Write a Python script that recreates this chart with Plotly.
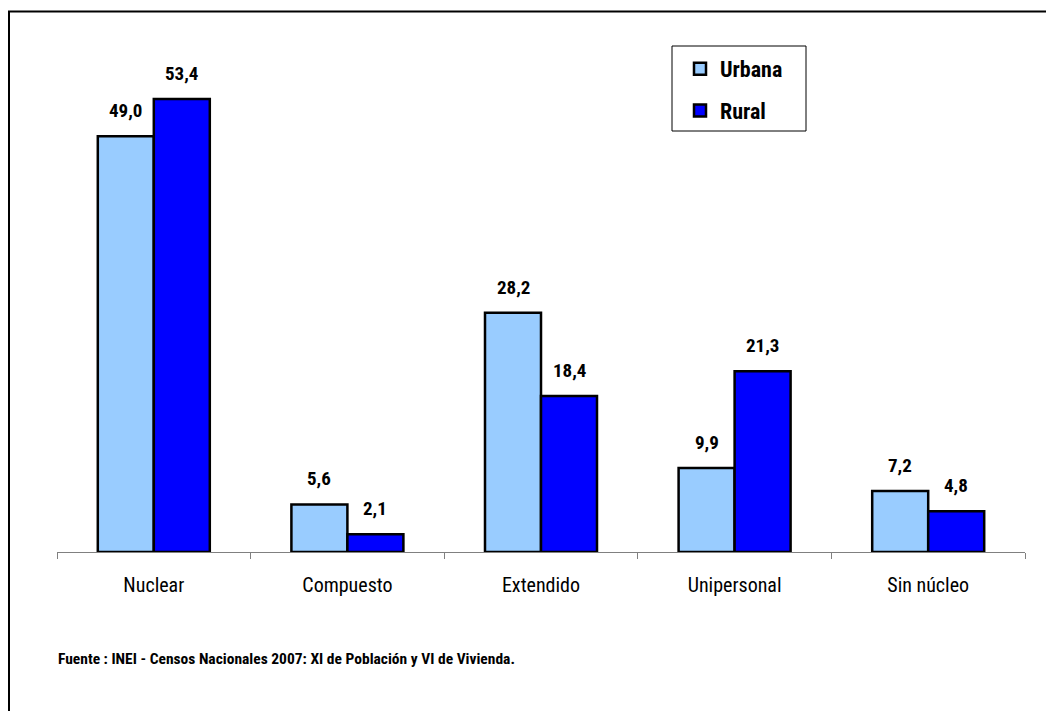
import plotly.graph_objects as go

categories = ["Nuclear", "Compuesto", "Extendido", "Unipersonal", "Sin núcleo"]
urbana = [49.0, 5.6, 28.2, 9.9, 7.2]
rural = [53.4, 2.1, 18.4, 21.3, 4.8]
series_names = ["Urbana", "Rural"]
source_text = "Fuente : INEI - Censos Nacionales 2007: XI de Población y VI de Vivienda."

NARROW = "Roboto Condensed, Liberation Sans Narrow, Arial Narrow, Liberation Sans, sans-serif"

# the page places the figure 8px in from the top-left corner
OX, OY = 8, 8
W, H = 1054, 711
L = 57 - OX
T = 43 - OY
R = W - (1025 - OX)
B = H - (552 - OY)
pw, ph = W - L - R, H - T - B


def px2x(px):
    return (px - OX - L) / pw


def py2y(py):
    return (H - B - (py - OY)) / ph


fig = go.Figure()
fig.add_trace(go.Bar(x=categories, y=urbana, name=series_names[0], legendgroup="u",
                     marker=dict(color="#99CCFF", line=dict(color="black", width=2.5))))
fig.add_trace(go.Bar(x=categories, y=rural, name=series_names[1], legendgroup="r",
                     marker=dict(color="#0000FF", line=dict(color="black", width=2.5))))

annotations = []
for vals, shift in ((urbana, -28), (rural, 28)):
    for c, v in zip(categories, vals):
        annotations.append(dict(x=c, y=v, xref="x", yref="y",
                                text=f"{v:.1f}".replace(".", ","), showarrow=False,
                                xshift=shift, yanchor="bottom", yshift=12,
                                font=dict(family=NARROW, size=19, color="black", weight="bold")))
annotations.append(dict(x=px2x(56), y=py2y(659), xref="paper", yref="paper",
                        xanchor="left", yanchor="middle", showarrow=False,
                        text=source_text,
                        font=dict(family=NARROW, size=15.5, color="black", weight="bold")))

shapes = [
    # outer frame (right/bottom edges fall outside the picture)
    dict(type="rect", xref="paper", yref="paper",
         x0=px2x(9), y0=py2y(780), x1=px2x(1120), y1=py2y(11.5),
         line=dict(color="black", width=2), fillcolor="rgba(0,0,0,0)", layer="below"),
    # legend frame
    dict(type="rect", xref="paper", yref="paper",
         x0=px2x(672), y0=py2y(131), x1=px2x(806), y1=py2y(46),
         line=dict(color="black", width=1), fillcolor="white", layer="below"),
]

fig.update_layout(
    width=W, height=H,
    margin=dict(l=L, r=R, t=T, b=B, pad=0),
    paper_bgcolor="white", plot_bgcolor="white",
    barmode="group", bargap=0.4215, bargroupgap=0,
    showlegend=True,
    legend=dict(x=px2x(680), y=py2y(48), xanchor="left", yanchor="top",
                bgcolor="rgba(0,0,0,0)", borderwidth=0,
                font=dict(family=NARROW, size=22, color="black", weight="bold"),
                traceorder="grouped", tracegroupgap=10),
    xaxis=dict(showline=True, linecolor="#808080", linewidth=1,
               ticks="outside", ticklen=6, tickcolor="#808080", tickwidth=1,
               tickson="boundaries", ticklabelstandoff=15,
               tickfont=dict(family=NARROW, size=20, color="black"),
               showgrid=False, zeroline=False),
    yaxis=dict(range=[0, 60], visible=False, showgrid=False, zeroline=False),
    annotations=annotations,
    shapes=shapes,
)

fig.write_html("out.html")
